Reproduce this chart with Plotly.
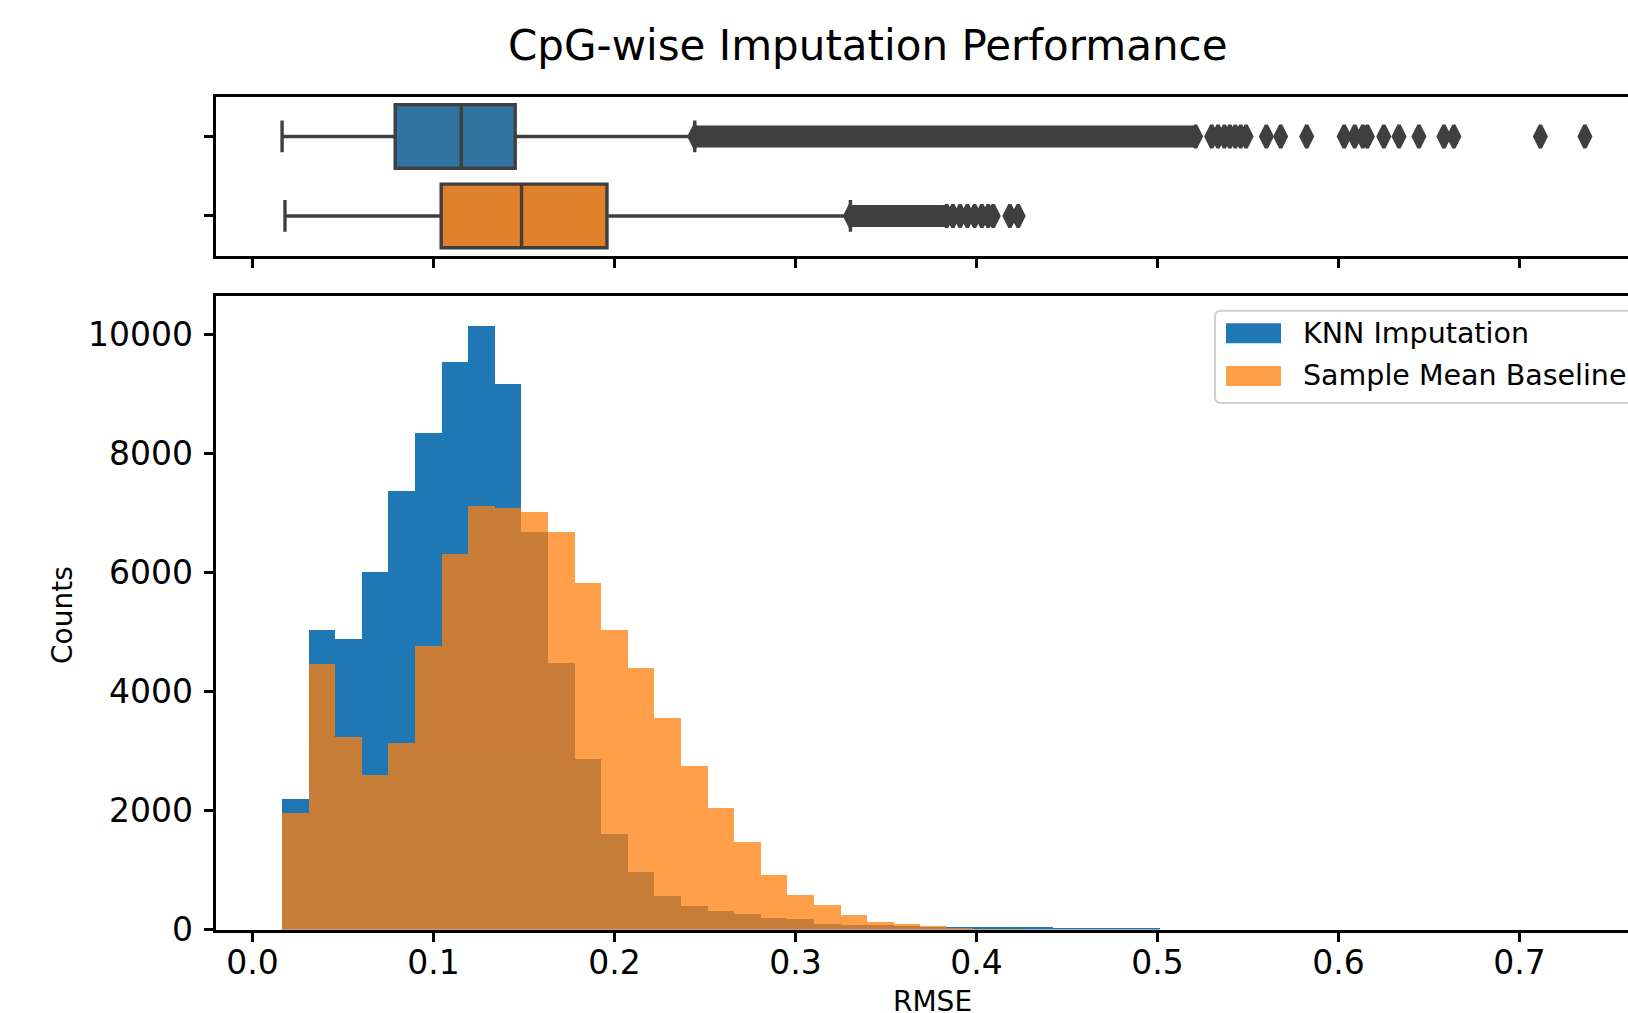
import plotly.graph_objects as go

# ---------------- data ----------------
title_text = "CpG-wise Imputation Performance"
series_names = ["KNN Imputation", "Sample Mean Baseline"]

# histogram bins (shared by both series)
bin_start = 0.0166
bin_width = 0.01469

knn_counts = [2200, 5045, 4880, 6005, 7364, 8348, 9547, 10141, 9166, 6676,
              4478, 2865, 1612, 972, 572, 405, 322, 262, 206, 176,
              104, 88, 75, 62, 55, 50, 45, 42, 40, 38, 36, 34, 30]
mean_counts = [1960, 4470, 3245, 2602, 3144, 4775, 6307, 7118, 7090, 7022,
               6676, 5830, 5030, 4400, 3550, 2760, 2050, 1470, 920, 584,
               410, 243, 136, 105, 66, 32, 8, 2]

# box statistics: lower whisker, Q1, median, Q3, upper whisker
knn_box = [0.0164, 0.0789, 0.1154, 0.1452, 0.2444]
mean_box = [0.0180, 0.1043, 0.1487, 0.1959, 0.3304]

# outliers: a dense (solid) run, then the separately visible points
knn_outlier_dense = [0.2444, 0.5211]
knn_outliers = [0.2444, 0.5211, 0.5300, 0.5335, 0.5370, 0.5400, 0.5430,
                0.5460, 0.5490,
                0.5602, 0.5681, 0.5825, 0.6032, 0.6090, 0.6135, 0.6160,
                0.6251, 0.6335, 0.6445, 0.6583, 0.6638, 0.7116, 0.7362]
mean_outlier_dense = [0.3304, 0.3836]
mean_outliers = [0.3304, 0.3836, 0.3870, 0.3910, 0.3950, 0.3990, 0.4030,
                 0.4065, 0.4093, 0.4185, 0.4231]

x_ticks = [0.0, 0.1, 0.2, 0.3, 0.4, 0.5, 0.6, 0.7]
y_ticks = [0, 2000, 4000, 6000, 8000, 10000]

# ---------------- styling ----------------
W, H = 1628, 1013
FONT = "DejaVu Sans"
BLUE, ORANGE = "#1f77b4", "#ff7f0e"
BOX_BLUE, BOX_ORANGE = "#3274a1", "#e1812c"
GRAY = "#3f3f3f"
X_RANGE = [-0.01994, 0.7600]
Y_MAX = 10648

def px_x(p):
    return p / W

def px_y(p):
    return 1 - p / H

knn_left = [bin_start + i * bin_width for i in range(len(knn_counts))]
mean_left = [bin_start + i * bin_width for i in range(len(mean_counts))]

fig = go.Figure()

# ---- histogram ----
fig.add_trace(go.Bar(x=knn_left, y=knn_counts, width=bin_width, offset=0,
                     marker=dict(color=BLUE, line=dict(width=0)),
                     name=series_names[0], xaxis="x", yaxis="y",
                     showlegend=False))
fig.add_trace(go.Bar(x=mean_left, y=mean_counts, width=bin_width, offset=0,
                     marker=dict(color=ORANGE, line=dict(width=0)),
                     opacity=0.75, name=series_names[1], xaxis="x", yaxis="y",
                     showlegend=False))

# ---- boxes ----
for pos, stats, fill, name in [(0, knn_box, BOX_BLUE, series_names[0]),
                               (1, mean_box, BOX_ORANGE, series_names[1])]:
    fig.add_trace(go.Box(
        y=[pos], lowerfence=[stats[0]], q1=[stats[1]], median=[stats[2]],
        q3=[stats[3]], upperfence=[stats[4]], orientation="h",
        width=0.8, whiskerwidth=0.5, fillcolor=fill, boxpoints=False,
        line=dict(color=GRAY, width=3.4), name=name, showlegend=False,
        xaxis="x2", yaxis="y2"))

# ---- outliers ----
for pos, dense, pts in [(0, knn_outlier_dense, knn_outliers),
                        (1, mean_outlier_dense, mean_outliers)]:
    fig.add_trace(go.Scatter(x=dense, y=[pos] * len(dense), mode="lines",
                             line=dict(color=GRAY, width=22),
                             showlegend=False, hoverinfo="skip",
                             xaxis="x2", yaxis="y2"))
    fig.add_trace(go.Scatter(x=pts, y=[pos] * len(pts), mode="markers",
                             marker=dict(symbol="diamond-tall", size=16,
                                         color=GRAY,
                                         line=dict(color=GRAY, width=3.5)),
                             showlegend=False, xaxis="x2", yaxis="y2"))

axis_common = dict(showgrid=False, zeroline=False, showline=True,
                   linecolor="black", linewidth=2.5, ticks="outside",
                   ticklen=10, tickwidth=2.5, tickcolor="black")

x_dom = [px_x(216.3), 1.0]

fig.update_layout(
    width=W, height=H,
    margin=dict(l=0, r=0, t=0, b=0, autoexpand=False),
    paper_bgcolor="white", plot_bgcolor="white",
    barmode="overlay", bargap=0,
    font=dict(family=FONT, color="black"),
    showlegend=False,
    title=dict(text=title_text, x=px_x(867.8), y=px_y(44.8),
               xref="paper", yref="container",
               xanchor="center", yanchor="middle",
               font=dict(family=FONT, size=42, color="black")),
    xaxis=dict(domain=x_dom, anchor="y", range=X_RANGE, tickvals=x_ticks,
               tickformat=".1f", mirror=True,
               tickfont=dict(family=FONT, size=33, color="black"),
               ticklabelstandoff=-8, **axis_common),
    yaxis=dict(domain=[px_y(929.5), px_y(295.7)], anchor="x",
               range=[0, Y_MAX], tickvals=y_ticks, tickformat="d",
               tickfont=dict(family=FONT, size=33, color="black"),
               ticklabelstandoff=4, **axis_common),
    xaxis2=dict(domain=x_dom, anchor="y2", range=X_RANGE, tickvals=x_ticks,
                showticklabels=False, mirror=True, **axis_common),
    yaxis2=dict(domain=[px_y(255.7), px_y(96.7)], anchor="x2",
                range=[1.5, -0.5], tickvals=[0, 1], ticktext=["", ""],
                **axis_common),
)

# axis labels
fig.add_annotation(text="Counts", x=px_x(62.3), y=px_y(614.7),
                   xref="paper", yref="paper", textangle=-90,
                   xanchor="center", yanchor="middle", showarrow=False,
                   font=dict(family=FONT, size=28, color="black"))
fig.add_annotation(text="RMSE", x=px_x(932), y=px_y(1001.0),
                   xref="paper", yref="paper",
                   xanchor="center", yanchor="middle", showarrow=False,
                   font=dict(family=FONT, size=28, color="black"))

# ---- legend (matplotlib style, cut by the right edge like the reference) ----
lx0, ly0, ly1, r = 1215, 310.7, 403, 6
path = (f"M {px_x(W + 20)},{px_y(ly0)} L {px_x(lx0 + r)},{px_y(ly0)} "
        f"Q {px_x(lx0)},{px_y(ly0)} {px_x(lx0)},{px_y(ly0 + r)} "
        f"L {px_x(lx0)},{px_y(ly1 - r)} "
        f"Q {px_x(lx0)},{px_y(ly1)} {px_x(lx0 + r)},{px_y(ly1)} "
        f"L {px_x(W + 20)},{px_y(ly1)} Z")
fig.add_shape(type="path", path=path, xref="paper", yref="paper",
              line=dict(color="#cccccc", width=2), fillcolor="white",
              opacity=0.9, layer="above")
for (name, color, op, yc) in [(series_names[0], BLUE, 1.0, 333.3),
                              (series_names[1], ORANGE, 0.75, 376.0)]:
    fig.add_shape(type="rect", xref="paper", yref="paper",
                  x0=px_x(1226), x1=px_x(1281),
                  y0=px_y(yc - 10), y1=px_y(yc + 10),
                  fillcolor=color, opacity=op, line=dict(width=0),
                  layer="above")
    fig.add_annotation(text=name, x=px_x(1301), y=px_y(yc),
                       xref="paper", yref="paper", xanchor="left",
                       yanchor="middle", showarrow=False,
                       font=dict(family=FONT, size=28.5, color="black"))

fig.write_html("out.html")
